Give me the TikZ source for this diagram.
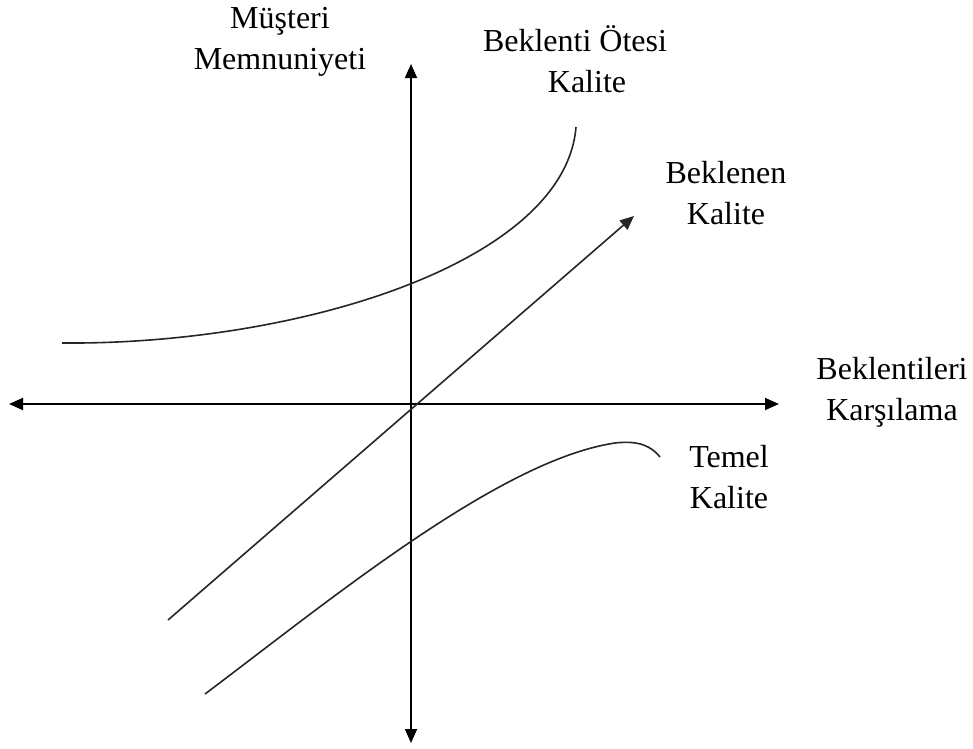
\documentclass[tikz,border=0pt]{standalone}
\usepackage{fontspec}
\setmainfont{Liberation Serif}
\usetikzlibrary{arrows.meta}
\tikzset{
  axisline/.style={line width=1.8pt, {Triangle[length=14pt,width=12pt]}-{Triangle[length=14pt,width=12pt]}},
  qualityline/.style={line width=1.6pt, black!85},
  lbl/.style={align=center, font=\fontsize{32}{41}\selectfont, inner sep=0pt}
}
\begin{document}
\begin{tikzpicture}[x=1pt, y=-1pt]
    \useasboundingbox (0,0) rectangle (973,748);

    % --- Axes ---
    \coordinate (origin) at (411,404);
    \coordinate (ytop) at (411,64);
    \coordinate (ybot) at (411,743);
    \coordinate (xleft) at (9,404);
    \coordinate (xright) at (779,404);
    \draw[axisline] (ytop) -- (ybot);
    \draw[axisline] (xleft) -- (xright);

    % --- Expected quality (straight arrow) ---
    \coordinate (diagstart) at (168,620);
    \coordinate (diagend) at (634,216);
    \draw[qualityline, -{Triangle[length=14pt,width=12pt]}] (diagstart) -- (diagend);

    % --- Beyond-expectation quality ---
    \coordinate (upstart) at (62,343);
    \coordinate (upend) at (576,127);
    \draw[qualityline] (upstart) .. controls (300,345) and (565,262) .. (upend);

    % --- Basic quality ---
    \coordinate (lowstart) at (205,694);
    \coordinate (lowend) at (660,457);
    \draw[qualityline] (lowstart) .. controls (330,600) and (500,460) .. (615,443)
        .. controls (640,440) and (652,447) .. (lowend);

    % --- Labels ---
    \node[lbl] (ylabel) at (280,42) {Müşteri\\Memnuniyeti};
    \node[lbl] (xlabel) at (892,392) {Beklentileri\\Karşılama};
    \node[lbl] (beyond) at (575,59) {Beklenti Ötesi\\\hspace*{24pt}Kalite};
    \node[lbl] (expected) at (726,193) {Beklenen\\Kalite};
    \node[lbl] (basic) at (729,477) {Temel\\Kalite};
\end{tikzpicture}
\end{document}
